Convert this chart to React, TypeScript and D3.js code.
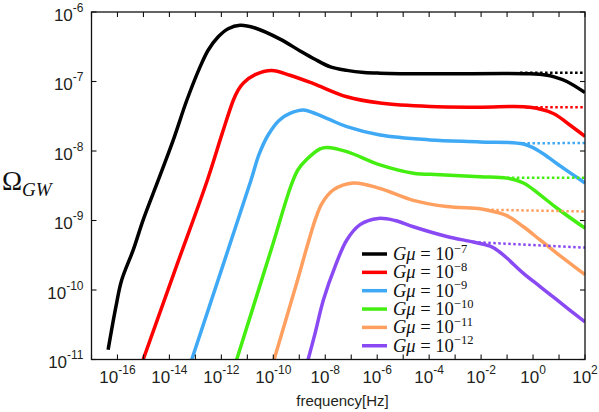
import React, { useEffect, useRef } from "react";
import * as d3 from "d3";

// G mu values shown in the legend (exponents of 10)
const gmuExponents = [-7, -8, -9, -10, -11, -12];
const lineColors = ["#000000", "#ff0000", "#3fa9f5", "#44ee11", "#ffa060", "#8a4af3"];

// curves as [log10 f, log10 Omega_GW]
const gmu7Curve = [
  [-16.36, -10.86], [-16.06, -10.24], [-15.84, -9.86], [-15.39, -9.42], [-15.01, -8.99],
  [-14.43, -8.42], [-13.85, -7.84], [-13.33, -7.27], [-12.82, -6.79], [-12.51, -6.55],
  [-12.13, -6.36], [-11.74, -6.24], [-11.28, -6.19], [-10.7, -6.23], [-9.74, -6.39],
  [-8.97, -6.56], [-8.4, -6.68], [-7.8, -6.79], [-7.17, -6.84], [-6.5, -6.87],
  [-5.89, -6.88], [-3.97, -6.89], [-0.12, -6.89], [0.54, -6.91], [0.78, -6.93],
  [1.3, -7.0], [2.0, -7.16],
];
const gmu8Curve = [
  [-15.01, -11.0], [-13.78, -9.71], [-12.54, -8.42], [-11.97, -7.75], [-11.54, -7.27],
  [-11.35, -7.12], [-11.15, -7.02], [-10.7, -6.9], [-10.06, -6.84], [-9.36, -6.91],
  [-8.46, -7.03], [-7.17, -7.22], [-5.89, -7.31], [-3.97, -7.36], [-2.04, -7.37],
  [-0.12, -7.37], [0.78, -7.46], [1.43, -7.63], [2.0, -7.79],
];
const gmu9Curve = [
  [-13.14, -11.0], [-10.86, -8.42], [-10.55, -8.05], [-10.2, -7.77], [-9.78, -7.56],
  [-9.36, -7.46], [-8.84, -7.41], [-8.46, -7.45], [-7.82, -7.55], [-7.17, -7.65],
  [-5.89, -7.77], [-3.97, -7.84], [-2.04, -7.87], [-0.37, -7.9], [0.27, -8.01],
  [0.91, -8.18], [2.0, -8.46],
];
const gmu10Curve = [
  [-11.41, -11.0], [-10.05, -9.38], [-9.32, -8.5], [-9.05, -8.27], [-8.71, -8.12],
  [-8.2, -7.97], [-7.93, -7.95], [-7.17, -8.01], [-5.89, -8.2], [-4.61, -8.32],
  [-3.58, -8.34], [-2.04, -8.37], [-1.01, -8.39], [-0.37, -8.46], [0.27, -8.63],
  [0.91, -8.82], [2.0, -9.11],
];
const gmu11Curve = [
  [-9.97, -11.0], [-9.1, -9.9], [-8.65, -9.31], [-8.36, -8.96], [-8.12, -8.75],
  [-7.69, -8.56], [-6.92, -8.46], [-5.89, -8.54], [-4.61, -8.71], [-3.32, -8.8],
  [-2.04, -8.83], [-1.65, -8.86], [-1.01, -8.93], [-0.37, -9.09], [0.27, -9.28],
  [0.91, -9.47], [2.0, -9.78],
];
const gmu12Curve = [
  [-8.66, -11.0], [-8.39, -10.62], [-8.07, -10.14], [-7.62, -9.66], [-7.17, -9.28],
  [-6.66, -9.06], [-5.96, -8.97], [-5.31, -9.0], [-4.61, -9.09], [-3.32, -9.23],
  [-2.3, -9.31], [-1.65, -9.37], [-1.3, -9.45], [-1.01, -9.54], [-0.37, -9.76],
  [0.27, -9.95], [0.91, -10.14], [2.0, -10.46],
];

// dotted continuations (no high-frequency cutoff)
const gmu7Dotted = [[-0.5, -6.875], [2.0, -6.875]];
const gmu8Dotted = [[-0.3, -7.37], [2.0, -7.37]];
const gmu9Dotted = [[-0.6, -7.89], [2.0, -7.885]];
const gmu10Dotted = [[-1.2, -8.385], [2.0, -8.385]];
const gmu11Dotted = [[-1.8, -8.845], [2.0, -8.87]];
const gmu12Dotted = [[-2.3, -9.31], [2.0, -9.39]];

const solidCurves = [gmu7Curve, gmu8Curve, gmu9Curve, gmu10Curve, gmu11Curve, gmu12Curve];
const dottedCurves = [gmu7Dotted, gmu8Dotted, gmu9Dotted, gmu10Dotted, gmu11Dotted, gmu12Dotted];

const xTickExponents = [-17, -16, -15, -14, -13, -12, -11, -10, -9, -8, -7, -6, -5, -4, -3, -2, -1, 0, 1, 2];
const xLabelExponents = [-16, -14, -12, -10, -8, -6, -4, -2, 0, 2];
const yTickExponents = [-11, -10, -9, -8, -7, -6];

const App = () => {
  const svgRef = useRef(null);

  useEffect(() => {
    const width = 599;
    const height = 412;
    const left = 91.5;
    const right = 585;
    const top = 12;
    const bottom = 359.5;

    const svg = d3.select(svgRef.current);
    svg.selectAll("*").remove();
    svg.attr("width", width).attr("height", height);

    const x = d3.scaleLog().domain([1e-17, 1e2]).range([left, right]);
    const y = d3.scaleLog().domain([1e-11, 1e-6]).range([bottom, top]);

    const line = d3
      .line()
      .x((d) => x(10 ** d[0]))
      .y((d) => y(10 ** d[1]))
      .curve(d3.curveCatmullRom.alpha(0.5));

    svg
      .append("defs")
      .append("clipPath")
      .attr("id", "plot-clip")
      .append("rect")
      .attr("x", left)
      .attr("y", top)
      .attr("width", right - left)
      .attr("height", bottom - top);

    const plot = svg.append("g").attr("clip-path", "url(#plot-clip)");

    // solid curves
    solidCurves.forEach((c, i) => {
      plot
        .append("path")
        .attr("d", line(c))
        .attr("fill", "none")
        .attr("stroke", lineColors[i])
        .attr("stroke-width", 3.5);
    });

    // dotted curves
    dottedCurves.forEach((c, i) => {
      plot
        .append("path")
        .attr("d", line(c))
        .attr("fill", "none")
        .attr("stroke", lineColors[i])
        .attr("stroke-width", 2.5)
        .attr("stroke-dasharray", "2.5,2.5");
    });

    // frame
    svg
      .append("rect")
      .attr("x", left)
      .attr("y", top)
      .attr("width", right - left)
      .attr("height", bottom - top)
      .attr("fill", "none")
      .attr("stroke", "#111")
      .attr("stroke-width", 1.3);

    const tickLen = 5;
    const ticks = svg.append("g").attr("stroke", "#111").attr("stroke-width", 1.1);
    xTickExponents.forEach((e) => {
      const px = x(10 ** e);
      ticks.append("line").attr("x1", px).attr("x2", px).attr("y1", bottom).attr("y2", bottom - tickLen);
      ticks.append("line").attr("x1", px).attr("x2", px).attr("y1", top).attr("y2", top + tickLen);
    });
    yTickExponents.forEach((e) => {
      const py = y(10 ** e);
      ticks.append("line").attr("x1", left).attr("x2", left + tickLen).attr("y1", py).attr("y2", py);
      ticks.append("line").attr("x1", right).attr("x2", right - tickLen).attr("y1", py).attr("y2", py);
    });

    const sans = "'Liberation Sans', Arial, Helvetica, sans-serif";

    // y tick labels
    yTickExponents.forEach((e) => {
      const t = svg
        .append("text")
        .attr("x", left - 8)
        .attr("y", y(10 ** e) + 8.5)
        .attr("text-anchor", "end")
        .attr("font-family", sans)
        .attr("fill", "#231f20");
      t.append("tspan").attr("font-size", 17).text("10");
      t.append("tspan").attr("font-size", 12).attr("dy", -9).text(`${e}`);
    });

    // x tick labels
    xLabelExponents.forEach((e) => {
      const t = svg
        .append("text")
        .attr("x", x(10 ** e))
        .attr("y", 382.5)
        .attr("text-anchor", "middle")
        .attr("font-family", sans)
        .attr("fill", "#231f20");
      t.append("tspan").attr("font-size", 17).text("10");
      t.append("tspan").attr("font-size", 12).attr("dy", -9).text(`${e}`);
    });

    // axis titles
    svg
      .append("text")
      .attr("x", 342.5)
      .attr("y", 406)
      .attr("text-anchor", "middle")
      .attr("font-family", sans)
      .attr("font-size", 15)
      .attr("fill", "#231f20")
      .text("frequency[Hz]");

    const yTitle = svg
      .append("text")
      .attr("x", 2)
      .attr("y", 190)
      .attr("font-family", "'Liberation Serif', 'DejaVu Serif', serif")
      .attr("fill", "#111");
    yTitle.append("tspan").attr("font-size", 27).text("Ω");
    yTitle.append("tspan").attr("font-size", 19).attr("font-style", "italic").attr("dy", 6).text("GW");

    // legend
    const legend = svg.append("g");
    gmuExponents.forEach((e, i) => {
      const rowY = 254 + i * 18.35;
      legend
        .append("line")
        .attr("x1", 362)
        .attr("x2", 387)
        .attr("y1", rowY)
        .attr("y2", rowY)
        .attr("stroke", lineColors[i])
        .attr("stroke-width", 3.5);
      const t = legend
        .append("text")
        .attr("x", 393)
        .attr("y", rowY + 6)
        .attr("font-family", "'Liberation Serif', 'DejaVu Serif', serif")
        .attr("font-size", 18.5)
        .attr("fill", "#111");
      t.append("tspan").attr("font-style", "italic").text("Gμ");
      t.append("tspan").text(" = 10");
      t.append("tspan").attr("font-size", 12.5).attr("dy", -7.5).text(`\u2212${-e}`);
    });
  }, []);

  return <svg ref={svgRef} style={{ position: "absolute", left: 0, top: 0 }}></svg>;
};

export default App;
